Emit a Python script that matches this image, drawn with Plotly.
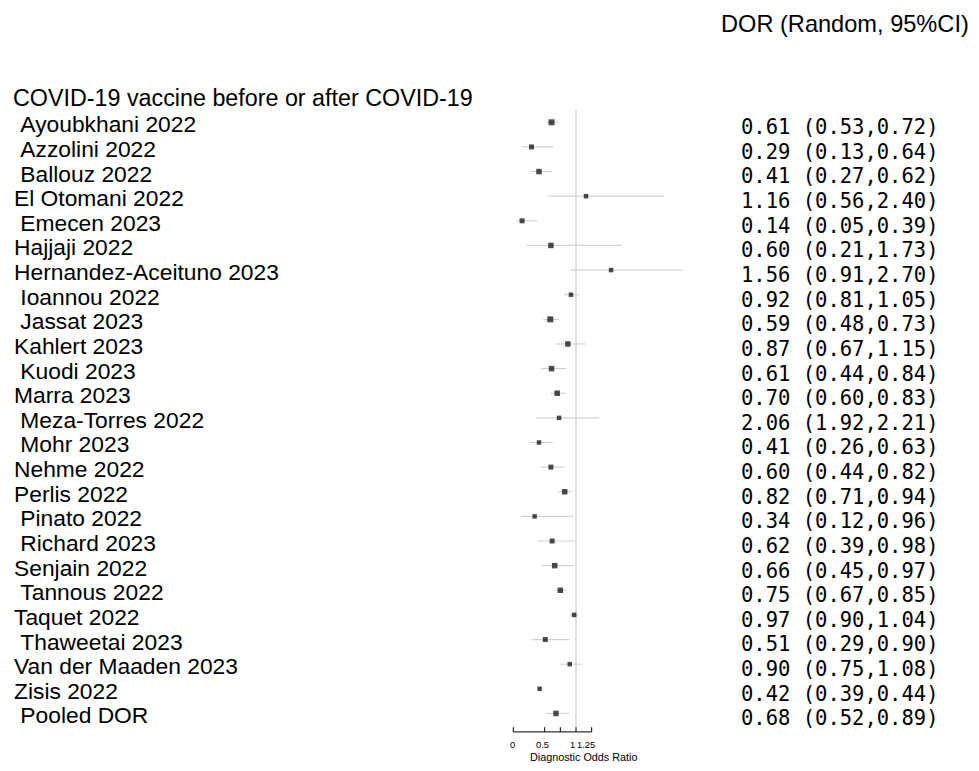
import plotly.graph_objects as go

header = "COVID-19 vaccine before or after COVID-19"
column_title = "DOR (Random, 95%CI)"
axis_title = "Diagnostic Odds Ratio"

studies = [" Ayoubkhani 2022", " Azzolini 2022", " Ballouz 2022", "El Otomani 2022",
           " Emecen 2023", "Hajjaji 2022", "Hernandez-Aceituno 2023", " Ioannou 2022",
           " Jassat 2023", "Kahlert 2023", " Kuodi 2023", "Marra 2023",
           " Meza-Torres 2022", " Mohr 2023", "Nehme 2022", "Perlis 2022",
           " Pinato 2022", " Richard 2023", "Senjain 2022", " Tannous 2022",
           "Taquet 2022", " Thaweetai 2023", "Van der Maaden 2023", "Zisis 2022",
           " Pooled DOR"]

# plotted estimates (as drawn)
dor = [0.61, 0.29, 0.41, 1.16, 0.14, 0.60, 1.56, 0.92, 0.59, 0.87, 0.61, 0.70,
       0.73, 0.41, 0.60, 0.82, 0.34, 0.62, 0.66, 0.75, 0.97, 0.51, 0.90, 0.42, 0.68]
lo = [0.53, 0.13, 0.27, 0.56, 0.05, 0.21, 0.91, 0.81, 0.48, 0.67, 0.44, 0.60,
      0.37, 0.26, 0.44, 0.71, 0.12, 0.39, 0.45, 0.67, 0.90, 0.29, 0.75, 0.39, 0.52]
hi = [0.72, 0.64, 0.62, 2.40, 0.39, 1.73, 2.70, 1.05, 0.73, 1.15, 0.84, 0.83,
      1.37, 0.63, 0.82, 0.94, 0.96, 0.98, 0.97, 0.85, 1.04, 0.90, 1.08, 0.44, 0.89]

# printed values in the right column
dor_text = ["0.61 (0.53,0.72)", "0.29 (0.13,0.64)", "0.41 (0.27,0.62)", "1.16 (0.56,2.40)",
            "0.14 (0.05,0.39)", "0.60 (0.21,1.73)", "1.56 (0.91,2.70)", "0.92 (0.81,1.05)",
            "0.59 (0.48,0.73)", "0.87 (0.67,1.15)", "0.61 (0.44,0.84)", "0.70 (0.60,0.83)",
            "2.06 (1.92,2.21)", "0.41 (0.26,0.63)", "0.60 (0.44,0.82)", "0.82 (0.71,0.94)",
            "0.34 (0.12,0.96)", "0.62 (0.39,0.98)", "0.66 (0.45,0.97)", "0.75 (0.67,0.85)",
            "0.97 (0.90,1.04)", "0.51 (0.29,0.90)", "0.90 (0.75,1.08)", "0.42 (0.39,0.44)",
            "0.68 (0.52,0.89)"]

weights = [6, 5, 5.5, 4.5, 5, 5.5, 4.5, 4.5, 6, 5.5, 5.5, 5.5, 4.5, 4.5, 5, 5.5,
           4.5, 5, 5.5, 5.5, 4.5, 5, 4.5, 4.5, 5.5]

x_ticks = [0, 0.5, 0.75, 1, 1.25]
tick_labels = ["0", "0.5", "1", "1.25"]
tick_label_x = [-0.02, 0.47, 0.95, 1.16]

rows = list(range(len(studies)))
n = len(studies)

# page geometry (the page body adds an 8px margin on each side)
OFF = 8
W, H = 979 - 2 * OFF, 771 - 2 * OFF
px_per_unit = 62.7
x0_px = 513.3 - OFF
row_px = 24.63
row0_px = 122.3 - OFF

def row_of(page_y):
    return (page_y - 122.3) / row_px

fig = go.Figure()

# CI whiskers
cx, cy = [], []
for i in rows:
    cx += [lo[i], hi[i], None]
    cy += [i, i, None]
fig.add_trace(go.Scatter(x=cx, y=cy, mode="lines",
                         line=dict(color="#d2d2d2", width=1.2),
                         hoverinfo="skip", showlegend=False))

# null line
fig.add_shape(type="line", x0=1, x1=1, y0=-0.51, y1=n - 0.44,
              line=dict(color="#d6d6d6", width=1.5), layer="below")

# point estimates
fig.add_trace(go.Scatter(x=dor, y=rows, mode="markers",
                         marker=dict(symbol="square", color="black", size=weights,
                                     line=dict(width=0)),
                         showlegend=False))

# x axis (drawn over 0..1.25)
axis_y = n - 0.25
tick_top = n - 0.44
fig.add_shape(type="line", x0=x_ticks[0], x1=x_ticks[-1], y0=axis_y, y1=axis_y,
              line=dict(color="black", width=1))
for t in x_ticks:
    fig.add_shape(type="line", x0=t, x1=t, y0=axis_y, y1=tick_top,
                  line=dict(color="black", width=1))

def px_x(p):
    return (p - OFF) / W

ann = []
font_l = dict(family="Liberation Sans, Arial, sans-serif", size=22.8, color="black")
font_h = dict(family="Liberation Sans, Arial, sans-serif", size=23.3, color="black")
font_m = dict(family="DejaVu Sans Mono, monospace", size=20.5, color="black")
for i in rows:
    ann.append(dict(x=px_x(11.5), xref="paper", y=i + 0.08, yref="y",
                    text=studies[i].replace(" ", "\u00a0"), showarrow=False,
                    xanchor="left", yanchor="middle", font=font_l))
    ann.append(dict(x=px_x(739), xref="paper", y=i + 0.2, yref="y",
                    text=dor_text[i].replace(" ", "\u00a0"), showarrow=False,
                    xanchor="left", yanchor="middle", font=font_m))
ann.append(dict(x=px_x(11), xref="paper", y=-1.0, yref="y", text=header,
                showarrow=False, xanchor="left", yanchor="middle", font=font_h))
ann.append(dict(x=1.0, xref="paper", y=1 - (24 - OFF) / H, yref="paper",
                text=column_title, showarrow=False, xanchor="right", yanchor="middle",
                font=dict(family="Liberation Sans, Arial, sans-serif",
                          size=23.6, color="black")))
for lab, xp in zip(tick_labels, tick_label_x):
    ann.append(dict(x=xp, xref="x", y=row_of(744), yref="y", text=lab, showarrow=False,
                    xanchor="center", yanchor="middle",
                    font=dict(family="Liberation Sans, Arial, sans-serif", size=9.4,
                              color="black")))
ann.append(dict(x=1.12, xref="x", y=0, yref="paper", text=axis_title,
                showarrow=False, xanchor="center", yanchor="bottom", yshift=-2,
                font=dict(family="Liberation Sans, Arial, sans-serif", size=10.8,
                          color="black")))

fig.update_layout(
    width=W, height=H,
    margin=dict(l=0, r=0, t=0, b=0),
    paper_bgcolor="white", plot_bgcolor="white",
    xaxis=dict(range=[-x0_px / px_per_unit, (W - x0_px) / px_per_unit],
               visible=False, fixedrange=True),
    yaxis=dict(range=[(H - row0_px) / row_px, -row0_px / row_px],
               visible=False, fixedrange=True),
    annotations=ann,
    showlegend=False,
)

fig.write_html("out.html")
